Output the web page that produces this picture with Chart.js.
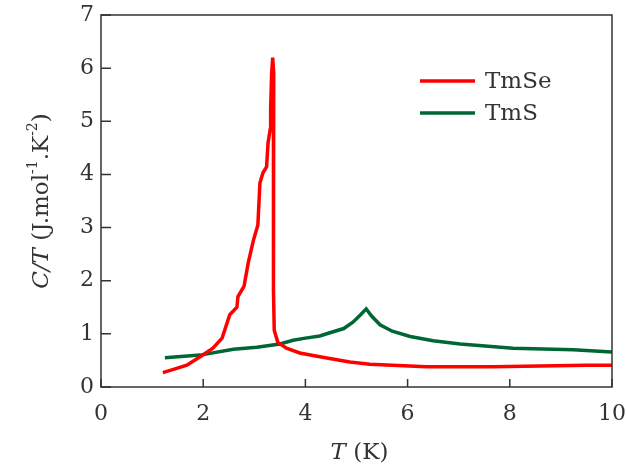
<!DOCTYPE html>
<html>
<head>
<meta charset="utf-8">
<script src="https://cdn.jsdelivr.net/npm/chart.js@4/dist/chart.umd.min.js"></script>
<style>
  html, body { margin: 0; padding: 0; background: #fff; }
  #wrap { width: 626px; height: 472px; }
</style>
</head>
<body>
<div id="wrap"><canvas id="main-chart" width="626" height="472"></canvas></div>
<script>
// TmSe (red)
const tmseT = [1.21, 1.45, 1.68, 1.94, 2.19, 2.37, 2.52, 2.66, 2.68, 2.80, 2.88, 2.98, 3.07, 3.11, 3.17, 3.24, 3.27, 3.31, 3.32, 3.34, 3.36, 3.38, 3.38, 3.37, 3.39, 3.46, 3.63, 3.89, 4.28, 4.87, 5.26, 6.37, 7.67, 9.5, 10]
const tmseC = [0.27, 0.34, 0.41, 0.57, 0.73, 0.92, 1.36, 1.50, 1.70, 1.90, 2.33, 2.75, 3.05, 3.84, 4.03, 4.14, 4.60, 4.84, 5.25, 5.91, 6.20, 5.90, 4.10, 1.83, 1.07, 0.84, 0.73, 0.64, 0.57, 0.47, 0.43, 0.38, 0.38, 0.41, 0.41]
// TmS (green)
const tmsT = [1.25, 1.94, 2.59, 3.05, 3.5, 3.76, 4.0, 4.28, 4.48, 4.75, 4.93, 5.08, 5.19, 5.3, 5.46, 5.7, 6.05, 6.5, 7.03, 8.06, 9.24, 10]
const tmsC = [0.55, 0.60, 0.71, 0.75, 0.81, 0.88, 0.92, 0.96, 1.02, 1.10, 1.22, 1.36, 1.47, 1.33, 1.17, 1.05, 0.95, 0.87, 0.81, 0.73, 0.70, 0.66]

const xTicks = [0, 2, 4, 6, 8, 10]
const yTicks = [0, 1, 2, 3, 4, 5, 6, 7]

const FONT = '"DejaVu Serif", "Liberation Serif", serif'
const RED = '#ff0000'
const GREEN = '#006633'
const INK = '#333'

function toPoints(xs, ys) {
    return xs.map((x, i) => ({ x: x, y: ys[i] }))
}

function noPad(s) {
    s.paddingLeft = 0
    s.paddingRight = 0
    s.paddingTop = 0
    s.paddingBottom = 0
}

// frame, inward ticks, axis titles, legend
const decor = {
    id: 'decor',
    afterDraw(chart) {
        const ctx = chart.ctx
        const a = chart.chartArea
        const xs = chart.scales.x
        const ys = chart.scales.y
        ctx.save()
        ctx.strokeStyle = '#333'
        ctx.lineWidth = 1.5
        ctx.strokeRect(a.left, a.top, a.right - a.left, a.bottom - a.top)
        ctx.beginPath()
        xTicks.forEach(v => {
            let px = xs.getPixelForValue(v)
            ctx.moveTo(px, a.bottom)
            ctx.lineTo(px, a.bottom - 8)
        })
        yTicks.forEach(v => {
            let py = ys.getPixelForValue(v)
            ctx.moveTo(a.left, py)
            ctx.lineTo(a.left + 10, py)
        })
        ctx.stroke()

        ctx.fillStyle = INK
        ctx.textBaseline = 'middle'
        // x title
        let italic = 'italic 23px ' + FONT
        let normal = '23px ' + FONT
        let small = '14px ' + FONT
        ctx.font = italic
        let w1 = ctx.measureText('T').width
        ctx.font = normal
        let w2 = ctx.measureText(' (K)').width
        let cx = (a.left + a.right) / 2 + 3
        let sx = cx - (w1 + w2) / 2
        ctx.font = italic
        ctx.textAlign = 'left'
        ctx.fillText('T', sx, 453)
        ctx.font = normal
        ctx.fillText(' (K)', sx + w1, 453)

        // y title, rotated
        let parts = [
            { t: 'C/T', f: italic, dy: 0 },
            { t: ' (J.mol', f: normal, dy: 0 },
            { t: '-1', f: small, dy: -9 },
            { t: '.K', f: normal, dy: 0 },
            { t: '-2', f: small, dy: -9 },
            { t: ')', f: normal, dy: 0 }
        ]
        let total = 0
        parts.forEach(p => { ctx.font = p.f; p.w = ctx.measureText(p.t).width; total += p.w })
        ctx.translate(42, (a.top + a.bottom) / 2)
        ctx.rotate(-Math.PI / 2)
        let px = -total / 2
        parts.forEach(p => {
            ctx.font = p.f
            ctx.fillText(p.t, px, p.dy)
            px += p.w
        })
        ctx.restore()

        // legend
        ctx.save()
        ctx.lineWidth = 3.5
        ctx.font = normal
        ctx.fillStyle = INK
        ctx.textBaseline = 'middle'
        chart.data.datasets.forEach((ds, i) => {
            let ly = 81 + i * 32
            ctx.strokeStyle = ds.borderColor
            ctx.beginPath()
            ctx.moveTo(420, ly)
            ctx.lineTo(475, ly)
            ctx.stroke()
            ctx.fillText(ds.label, 485, ly + 1)
        })
        ctx.restore()
    }
}

new Chart(document.getElementById('main-chart'), {
    type: 'scatter',
    data: {
        datasets: [
            {
                label: 'TmSe',
                data: toPoints(tmseT, tmseC),
                showLine: true,
                borderColor: RED,
                backgroundColor: RED,
                borderWidth: 3.5,
                pointRadius: 0,
                tension: 0
            },
            {
                label: 'TmS',
                data: toPoints(tmsT, tmsC),
                showLine: true,
                borderColor: GREEN,
                backgroundColor: GREEN,
                borderWidth: 3.5,
                pointRadius: 0,
                tension: 0
            }
        ]
    },
    options: {
        responsive: false,
        animation: false,
        devicePixelRatio: 1,
        layout: { padding: { top: 15, right: 14, left: 0, bottom: 0 } },
        plugins: {
            legend: { display: false },
            tooltip: { enabled: false }
        },
        scales: {
            x: {
                type: 'linear',
                min: 0,
                max: 10,
                afterBuildTicks: s => { s.ticks = xTicks.map(v => ({ value: v })) },
                afterFit: s => { s.height = 472 - 387; noPad(s) },
                grid: { display: false, drawTicks: false },
                border: { display: false },
                ticks: {
                    padding: 14,
                    color: INK,
                    font: { family: FONT, size: 22 },
                    maxRotation: 0
                }
            },
            y: {
                type: 'linear',
                min: 0,
                max: 7,
                afterBuildTicks: s => { s.ticks = yTicks.map(v => ({ value: v })) },
                afterFit: s => { s.width = 101; noPad(s) },
                grid: { display: false, drawTicks: false },
                border: { display: false },
                ticks: {
                    padding: 7,
                    color: INK,
                    font: { family: FONT, size: 22 }
                }
            }
        }
    },
    plugins: [decor]
})
</script>
</body>
</html>
